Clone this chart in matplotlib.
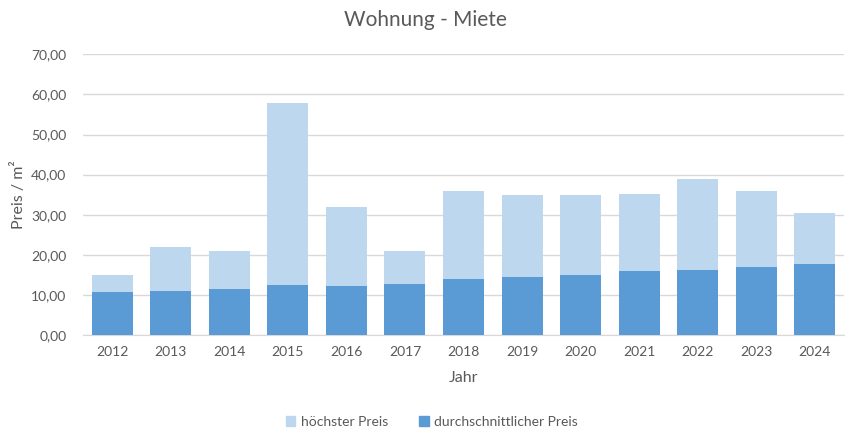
import matplotlib
matplotlib.use("Agg")
import matplotlib.pyplot as plt
from matplotlib.ticker import FuncFormatter, MultipleLocator
from matplotlib.patches import Patch

years = ["2012", "2013", "2014", "2015", "2016", "2017", "2018",
         "2019", "2020", "2021", "2022", "2023", "2024"]
hoechster = [15.0, 22.0, 21.0, 57.9, 32.0, 21.0, 36.0, 35.0, 35.0, 35.2, 39.0, 36.0, 30.5]
durchschnitt = [10.7, 11.0, 11.5, 12.5, 12.3, 12.8, 14.0, 14.5, 15.0, 16.0, 16.2, 17.0, 17.7]

plt.rcParams['font.family'] = ['Lato', 'DejaVu Sans']
gray = '#595959'
light = '#BDD7EE'
dark = '#5B9BD5'

fig = plt.figure(figsize=(8.5, 4.41), dpi=100)
ax = fig.add_axes([83/850, 1-335/441, (844-83)/850, (335-54.3)/441])

x = range(len(years))
ax.bar(x, hoechster, width=0.70, color=light, zorder=2)
ax.bar(x, durchschnitt, width=0.70, color=dark, zorder=3)

ax.set_xlim(-0.5, len(years)-0.5)
ax.set_ylim(0, 70)
ax.yaxis.set_major_locator(MultipleLocator(10))
ax.yaxis.set_major_formatter(FuncFormatter(lambda v, p: f"{v:.2f}".replace('.', ',')))
ax.set_xticks(list(x))
ax.set_xticklabels(years)
ax.grid(axis='y', color='#d9d9d9', linewidth=1, zorder=0)
for s in ['top', 'right', 'left']:
    ax.spines[s].set_visible(False)
ax.spines['bottom'].set_color('#d9d9d9')
ax.tick_params(axis='both', length=0, colors=gray, labelsize=10)
ax.tick_params(axis='y', pad=12)
ax.tick_params(axis='x', pad=8)

ax.set_xlabel("Jahr", color=gray, fontsize=11.5, labelpad=9)
ax.set_ylabel("Preis / m²", color=gray, fontsize=11.5, labelpad=4)
fig.text(0.5, 1-20/441, "Wohnung - Miete", ha='center', va='center', color=gray, fontsize=15)

handles = [Patch(color=light, label="höchster Preis"), Patch(color=dark, label="durchschnittlicher Preis")]
leg = fig.legend(handles=handles, loc='center', bbox_to_anchor=(0.508, 1-422/441), ncol=2,
                 frameon=False, fontsize=10, handlelength=0.7, handleheight=0.7,
                 columnspacing=2.2, handletextpad=0.4)
for t in leg.get_texts():
    t.set_color(gray)

fig.savefig("out.png", dpi=100)
